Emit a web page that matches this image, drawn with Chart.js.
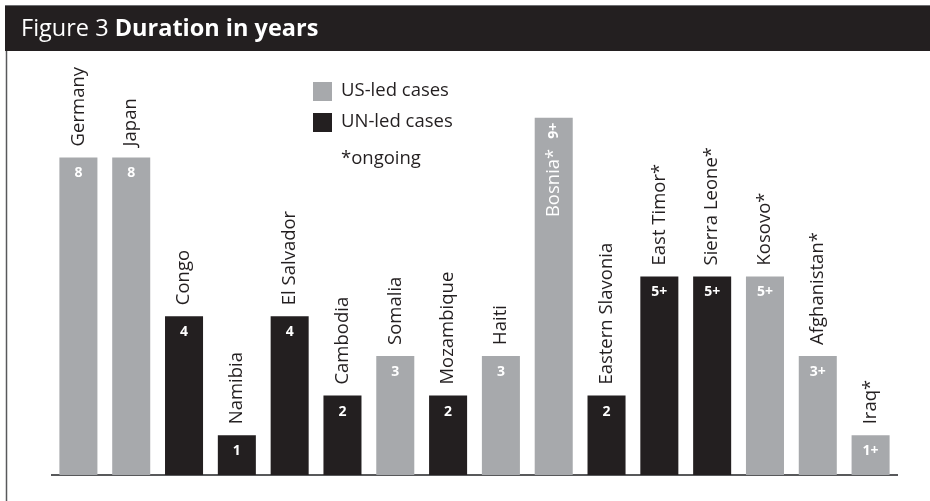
<!DOCTYPE html>
<html>
<head>
<meta charset="utf-8">
<title>Duration in years</title>
<script src="https://cdn.jsdelivr.net/npm/chart.js@4"></script>
<style>
  html, body { margin: 0; padding: 0; background: #fff; }
  #wrap { position: relative; width: 930px; height: 501px; }
</style>
</head>
<body>
<div id="wrap"><canvas id="durationChart"></canvas></div>
<script>
// countries, years and who led the operation
const countries = [
    "Germany", "Japan", "Congo", "Namibia", "El Salvador", "Cambodia",
    "Somalia", "Mozambique", "Haiti", "Bosnia*", "Eastern Slavonia",
    "East Timor*", "Sierra Leone*", "Kosovo*", "Afghanistan*", "Iraq*"
];
const years = [8, 8, 4, 1, 4, 2, 3, 2, 3, 9, 2, 5, 5, 5, 3, 1];
const leadBy = [
    "US", "US", "UN", "UN", "UN", "UN", "US", "UN",
    "US", "US", "UN", "UN", "UN", "US", "US", "US"
];
const ongoing = [
    false, false, false, false, false, false, false, false,
    false, true, false, true, true, true, true, true
];
const seriesNames = { US: "US-led cases", UN: "UN-led cases" };
const noteText = "*ongoing";

const GRAY = "#a7a9ac";
const DARK = "#231f20";
const FONT = "'Open Sans', 'Noto Sans', sans-serif";
const NAME_FONT = "18.5px " + FONT;
const VALUE_FONT = "bold 14px " + FONT;

function seriesData(lead) {
    return years.map((v, i) => leadBy[i] === lead ? v : null);
}

// header band, frame lines and the custom legend
const framePlugin = {
    id: "frame",
    beforeDraw(chart) {
        const ctx = chart.ctx;
        ctx.save();
        ctx.fillStyle = "#fff";
        ctx.fillRect(0, 0, chart.width, chart.height);

        ctx.fillStyle = DARK;
        ctx.fillRect(5, 5, chart.width - 5, 46);
        ctx.fillStyle = "#6d6e71";
        ctx.fillRect(5, 5, chart.width - 5, 1);

        ctx.strokeStyle = "#58595b";
        ctx.lineWidth = 1.5;
        ctx.beginPath();
        ctx.moveTo(6.5, 51);
        ctx.lineTo(6.5, chart.height);
        ctx.stroke();

        // title: regular + bold
        ctx.fillStyle = "#fff";
        ctx.textBaseline = "alphabetic";
        ctx.textAlign = "left";
        ctx.font = "23.5px " + FONT;
        const first = "Figure 3 ";
        ctx.fillText(first, 21, 36);
        const w = ctx.measureText(first).width;
        ctx.font = "bold 23.5px " + FONT;
        ctx.fillText("Duration in years", 21 + w, 36);
        ctx.restore();
    },
    afterDraw(chart) {
        const ctx = chart.ctx;
        ctx.save();
        ctx.font = NAME_FONT;
        ctx.textBaseline = "middle";
        ctx.textAlign = "left";
        let y = 82;
        chart.data.datasets.forEach(ds => {
            ctx.fillStyle = ds.backgroundColor;
            ctx.fillRect(313, y, 19, 19);
            ctx.fillStyle = DARK;
            ctx.fillText(ds.label, 341, y + 9);
            y += 31;
        });
        ctx.fillStyle = DARK;
        ctx.fillText(noteText, 341, y + 15);
        ctx.restore();
    }
};

// country names above the bars and the year figures inside them
const barLabelPlugin = {
    id: "barLabels",
    afterDatasetsDraw(chart) {
        const ctx = chart.ctx;
        ctx.save();
        chart.data.datasets.forEach((ds, di) => {
            const meta = chart.getDatasetMeta(di);
            meta.data.forEach((bar, i) => {
                if (ds.data[i] === null) return;
                const x = bar.x;
                const top = bar.y;
                const name = countries[i];
                const value = String(years[i]) + (ongoing[i] ? "+" : "");

                ctx.font = NAME_FONT;
                const nameWidth = ctx.measureText(name).width;
                const inside = top - 11 - nameWidth < 51;

                if (inside) {
                    // no room above: both labels turned and set inside
                    ctx.fillStyle = "#fff";
                    ctx.save();
                    ctx.translate(x, top + 21);
                    ctx.rotate(-Math.PI / 2);
                    ctx.textBaseline = "middle";
                    ctx.textAlign = "left";
                    ctx.font = VALUE_FONT;
                    ctx.fillText(value, 0, 0);
                    ctx.restore();

                    ctx.save();
                    ctx.translate(x, top + 31);
                    ctx.rotate(-Math.PI / 2);
                    ctx.textBaseline = "middle";
                    ctx.textAlign = "right";
                    ctx.font = NAME_FONT;
                    ctx.fillText(name, 0, 0);
                    ctx.restore();
                    return;
                }

                ctx.save();
                ctx.translate(x, top - 11);
                ctx.rotate(-Math.PI / 2);
                ctx.fillStyle = DARK;
                ctx.textBaseline = "middle";
                ctx.textAlign = "left";
                ctx.fillText(name, 0, 0);
                ctx.restore();

                ctx.fillStyle = "#fff";
                ctx.font = VALUE_FONT;
                ctx.textAlign = "center";
                ctx.textBaseline = "middle";
                ctx.fillText(value, x, top + 16);
            });
        });
        ctx.restore();
    }
};

const ctx = document.getElementById("durationChart").getContext("2d");

new Chart(ctx, {
    type: "bar",
    data: {
        labels: countries,
        datasets: [
            {
                label: seriesNames.US,
                data: seriesData("US"),
                backgroundColor: GRAY
            },
            {
                label: seriesNames.UN,
                data: seriesData("UN"),
                backgroundColor: DARK
            }
        ]
    },
    options: {
        responsive: true,
        maintainAspectRatio: false,
        animation: false,
        devicePixelRatio: 1,
        layout: {
            padding: { left: 52, right: 33, top: 78, bottom: 26 }
        },
        datasets: {
            bar: {
                grouped: false,
                barPercentage: 0.72,
                categoryPercentage: 1
            }
        },
        plugins: {
            legend: { display: false },
            tooltip: { enabled: false }
        },
        scales: {
            x: {
                grid: { display: false, drawTicks: false },
                ticks: { display: false },
                border: { display: true, color: "#58595b", width: 2 }
            },
            y: {
                display: false,
                min: 0,
                max: 10
            }
        }
    },
    plugins: [framePlugin, barLabelPlugin]
});
</script>
</body>
</html>
